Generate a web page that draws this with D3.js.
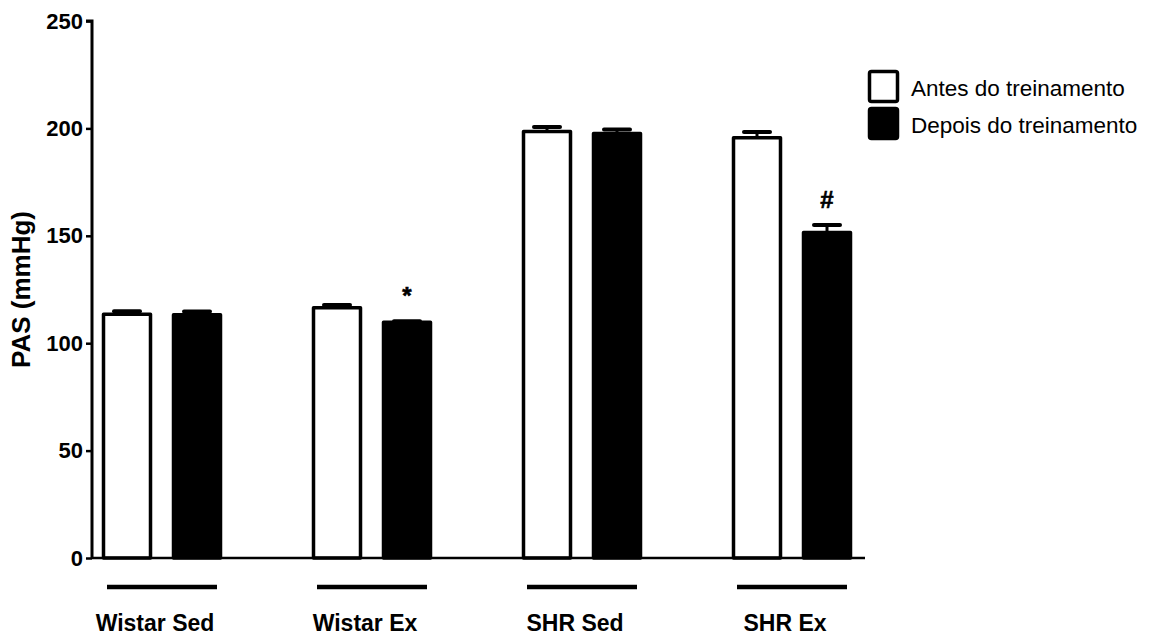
<!DOCTYPE html>
<html>
<head>
<meta charset="utf-8">
<script src="https://cdn.jsdelivr.net/npm/d3@7"></script>
<style>
  body { margin: 0; background: #fff; }
  text { font-family: "Liberation Sans", Arial, sans-serif; }
</style>
</head>
<body>
<div id="wrapper"></div>
<script>
const groups = ['Wistar Sed', 'Wistar Ex', 'SHR Sed', 'SHR Ex']
const series = ['Antes do treinamento', 'Depois do treinamento']
const antes = [113.5, 116.5, 198.5, 195.7]
const depois = [113.3, 109.7, 197.6, 151.5]
const antesErr = [1.4, 1.3, 2.2, 2.6]
const depoisErr = [1.4, 0.5, 1.9, 3.5]
const marks = ['', '*', '', '#']   // significance over "depois"
const yTicks = [0, 50, 100, 150, 200, 250]

const width = 1160
let dimensions = {
  width: width,
  height: 637,
  margin: { top: 21, right: 295, bottom: 79, left: 92 },
}
dimensions.boundedWidth = dimensions.width - dimensions.margin.right - dimensions.margin.left
dimensions.boundedHeight = dimensions.height - dimensions.margin.top - dimensions.margin.bottom

const svg = d3.select('#wrapper')
  .append('svg')
  .attr('width', dimensions.width)
  .attr('height', dimensions.height)

const bounds = svg.append('g')
  .attr('transform', `translate(${dimensions.margin.left}, ${dimensions.margin.top})`)

const yScale = d3.scaleLinear().domain([0, 250]).range([dimensions.boundedHeight, 0])

// groups are 210px apart, first centred 70px right of the axis
const xScale = d3.scaleBand().domain(groups).range([-35, 805])
const subScale = d3.scaleBand().domain(series).range([35, 175])
const barWidth = 47

const rows = groups.map((g, i) => [
  { group: g, s: series[0], v: antes[i], e: antesErr[i], fill: 'white' },
  { group: g, s: series[1], v: depois[i], e: depoisErr[i], fill: 'black' },
]).flat()

const barX = d => xScale(d.group) + subScale(d.s) + subScale.bandwidth() / 2

// error bars (upper only)
const errs = bounds.append('g')
errs.selectAll('line.stem')
  .data(rows)
  .enter().append('line')
  .attr('x1', barX).attr('x2', barX)
  .attr('y1', d => yScale(d.v)).attr('y2', d => yScale(d.v + d.e))
  .attr('stroke', 'black').attr('stroke-width', 3)
errs.selectAll('line.cap')
  .data(rows)
  .enter().append('line')
  .attr('x1', d => barX(d) - 13).attr('x2', d => barX(d) + 13)
  .attr('y1', d => yScale(d.v + d.e)).attr('y2', d => yScale(d.v + d.e))
  .attr('stroke', 'black').attr('stroke-width', 4)
  .attr('stroke-linecap', 'round')

bounds.append('g').selectAll('rect')
  .data(rows)
  .enter().append('rect')
  .attr('x', d => barX(d) - barWidth / 2)
  .attr('y', d => yScale(d.v))
  .attr('width', barWidth)
  .attr('height', d => dimensions.boundedHeight - yScale(d.v))
  .attr('fill', d => d.fill)
  .attr('stroke', 'black')
  .attr('stroke-width', 3.5)
  .attr('stroke-linejoin', 'round')

// significance marks
bounds.append('g').selectAll('text')
  .data(groups.map((g, i) => ({ group: g, s: series[1], v: depois[i], e: depoisErr[i], m: marks[i] })).filter(d => d.m))
  .enter().append('text')
  .attr('x', barX)
  .attr('y', d => yScale(d.v + d.e) - 17)
  .attr('text-anchor', 'middle')
  .attr('font-size', '24px')
  .attr('font-weight', 'bold')
  .attr('stroke', 'black').attr('stroke-width', 0.6)
  .text(d => d.m)

// axes
const yAxis = bounds.append('g')
  .call(d3.axisLeft(yScale).tickValues(yTicks).tickSize(6).tickPadding(3))
yAxis.select('.domain').attr('stroke-width', 3).attr('d', `M0,${dimensions.boundedHeight}V0H-6`)
yAxis.selectAll('.tick line').attr('stroke-width', 2.5)
yAxis.selectAll('.tick text')
  .attr('font-size', '22px')
  .attr('font-weight', 'bold')
  .attr('font-family', '"Liberation Sans", Arial, sans-serif')
  .attr('fill', 'black')

bounds.append('line')
  .attr('x1', 0).attr('x2', 773)
  .attr('y1', dimensions.boundedHeight).attr('y2', dimensions.boundedHeight)
  .attr('stroke', 'black').attr('stroke-width', 2.5)

// group bars & labels under the axis
const groupG = bounds.append('g').selectAll('g')
  .data(groups)
  .enter().append('g')
  .attr('transform', g => `translate(${xScale(g) + xScale.bandwidth() / 2}, 0)`)
groupG.append('line')
  .attr('x1', -55).attr('x2', 55)
  .attr('y1', 566).attr('y2', 566)
  .attr('stroke', 'black').attr('stroke-width', 4.5)
groupG.append('text')
  .attr('x', -7)
  .attr('y', 610)
  .attr('text-anchor', 'middle')
  .attr('font-size', '23px')
  .attr('font-weight', 'bold')
  .text(g => g)

svg.append('text')
  .attr('transform', `translate(30, ${dimensions.margin.top + yScale(125)}) rotate(-90)`)
  .attr('text-anchor', 'middle')
  .attr('font-size', '26px')
  .attr('font-weight', 'bold')
  .text('PAS (mmHg)')

// legend
const legend = svg.append('g').attr('transform', 'translate(868, 70)')
const legItems = legend.selectAll('g')
  .data(series)
  .enter().append('g')
  .attr('transform', (d, i) => `translate(0, ${i * 37})`)
legItems.append('rect')
  .attr('x', 1.5).attr('y', 1.5)
  .attr('width', 28).attr('height', 30)
  .attr('rx', 2)
  .attr('fill', (d, i) => i === 0 ? 'white' : 'black')
  .attr('stroke', 'black').attr('stroke-width', 3.5)
legItems.append('text')
  .attr('x', 43)
  .attr('y', 26)
  .attr('font-size', '22.5px')
  .text(d => d)
</script>
</body>
</html>
